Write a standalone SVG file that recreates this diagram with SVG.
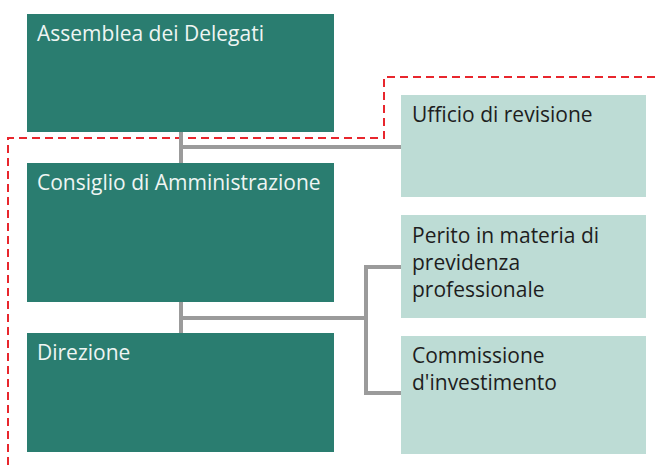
<svg xmlns="http://www.w3.org/2000/svg" width="659" height="465" viewBox="0 0 659 465">
<style>
.dark{fill:#2a7d70}
.light{fill:#bddcd5}
.tw{font-family:"Open Sans","Noto Sans",sans-serif;font-size:21px;fill:#eef5f3}
.tb{font-family:"Open Sans","Noto Sans",sans-serif;font-size:21px;fill:#1e1e1e}
.conn{stroke:#9b9b9b;stroke-width:4;fill:none}
.frame{stroke:#e8262d;stroke-width:2;stroke-dasharray:8 5;fill:none}
</style>
<rect width="659" height="465" fill="#ffffff"/>
<path class="frame" d="M8,465 V138 H384 V77 H659"/>
<g id="connectors">
<path class="conn" d="M181,132 V163 M181,147 H401"/>
<path class="conn" d="M181,302 V333 M181,318 H366 M366,267 V393 M364,267 H401 M364,393 H401"/>
</g>
<g id="assemblea"><rect class="dark" x="27" y="14" width="307" height="118"/><text class="tw" x="37" y="41">Assemblea dei Delegati</text></g>
<g id="consiglio"><rect class="dark" x="27" y="163" width="307" height="139"/><text class="tw" x="37" y="190">Consiglio di Amministrazione</text></g>
<g id="direzione"><rect class="dark" x="27" y="333" width="307" height="119"/><text class="tw" x="37" y="360">Direzione</text></g>
<g id="ufficio"><rect class="light" x="401" y="95" width="245" height="102"/><text class="tb" x="412" y="122">Ufficio di revisione</text></g>
<g id="perito"><rect class="light" x="401" y="215" width="245" height="103"/><text class="tb" x="412" y="243">Perito in materia di</text><text class="tb" x="412" y="270">previdenza</text><text class="tb" x="412" y="297">professionale</text></g>
<g id="commissione"><rect class="light" x="401" y="336" width="245" height="118"/><text class="tb" x="412" y="363">Commissione</text><text class="tb" x="412" y="390">d'investimento</text></g>
</svg>
